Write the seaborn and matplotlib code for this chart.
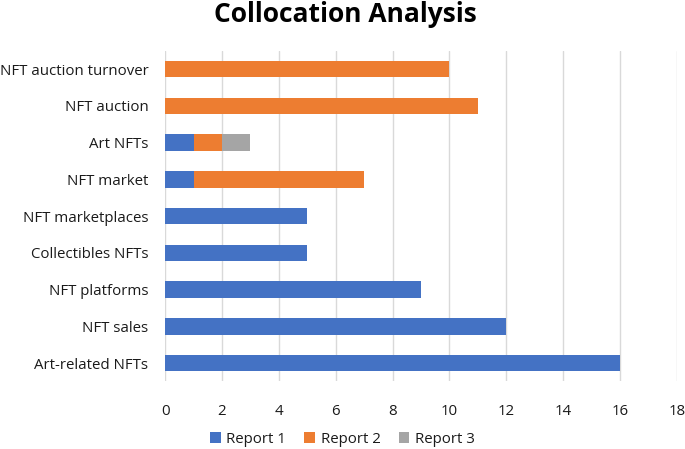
import matplotlib
matplotlib.use("Agg")
import matplotlib.pyplot as plt
import seaborn as sns
import pandas as pd
import numpy as np
from matplotlib.patches import Patch

categories = ["NFT auction turnover", "NFT auction", "Art NFTs", "NFT market",
              "NFT marketplaces", "Collectibles NFTs", "NFT platforms",
              "NFT sales", "Art-related NFTs"]
report1 = [0, 0, 1, 1, 5, 5, 9, 12, 16]
report2 = [10, 11, 1, 6, 0, 0, 0, 0, 0]
report3 = [0, 0, 1, 0, 0, 0, 0, 0, 0]
series_names = ["Report 1", "Report 2", "Report 3"]
colors = ["#4472C4", "#ED7D31", "#A5A5A5"]

sns.set_theme(style="white")
plt.rcParams["font.family"] = ["Open Sans", "DejaVu Sans"]

r1 = np.array(report1)
r2 = np.array(report2)
r3 = np.array(report3)
df = pd.DataFrame({
    "cat": categories,
    "s3": r1 + r2 + r3,
    "s2": r1 + r2,
    "s1": r1,
})

fig = plt.figure(figsize=(6.85, 4.49), dpi=100)
ax = fig.add_axes([0.241, 0.1506, 0.747, 0.7364])

for col, c in zip(["s3", "s2", "s1"], colors[::-1]):
    sns.barplot(data=df, x=col, y="cat", order=categories, color=c,
                orient="h", width=0.45, saturation=1, ax=ax, zorder=3,
                linewidth=0, edgecolor="none")

ax.set_xlim(0, 18)
ax.set_xticks(range(0, 19, 2))
ax.set_xlabel("")
ax.set_ylabel("")
for s in ax.spines.values():
    s.set_visible(False)
ax.grid(axis="x", color="#D9D9D9", linewidth=1, zorder=0)
ax.grid(axis="y", visible=False)
ax.tick_params(axis="x", length=0, pad=16, labelsize=10.8, colors="#1a1a1a")
ax.tick_params(axis="y", length=0, pad=12, labelsize=10.8, colors="#1a1a1a")

fig.suptitle("Collocation Analysis", x=0.504, y=0.997, fontsize=19,
             fontweight="bold", color="black")

handles = [Patch(facecolor=c, edgecolor="none", label=n) for n, c in zip(series_names, colors)]
fig.legend(handles=handles, loc="center", bbox_to_anchor=(0.5, 0.022), ncol=3,
           frameon=False, fontsize=10.8, handlelength=0.7, handleheight=0.7,
           handletextpad=0.4, columnspacing=1.2, labelcolor="#1a1a1a")

fig.savefig("out.png", dpi=100)
